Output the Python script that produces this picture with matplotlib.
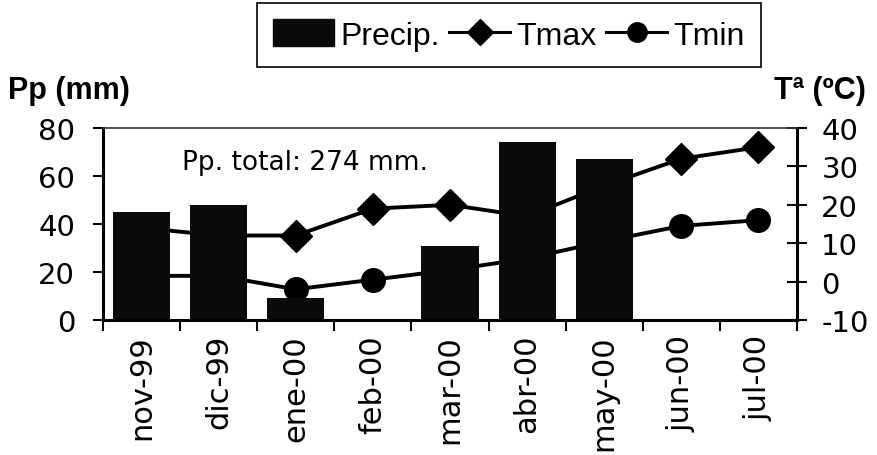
import matplotlib
matplotlib.use('Agg')
import matplotlib.pyplot as plt
import numpy as np
from matplotlib.patches import Patch
from matplotlib.lines import Line2D

plt.rcParams['axes.unicode_minus'] = False

months = ['nov-99', 'dic-99', 'ene-00', 'feb-00', 'mar-00', 'abr-00', 'may-00', 'jun-00', 'jul-00']
precip = [45, 48, 9, 0, 31, 74, 67, 0, 0]
tmax = [14, 12, 12, 19, 20, 17, 25, 32, 35]
tmin = [1.5, 1.5, -2, 0.5, 3, 6, 10.5, 14.5, 16]

x = np.arange(len(months))

fig = plt.figure(figsize=(8.77, 4.56), dpi=100)
ax = fig.add_axes([103/877, 1-321/456, 694/877, 192/456])
ax2 = ax.twinx()

# bars sit over the lines in the original
ax.set_zorder(2)
ax2.set_zorder(1)
ax.patch.set_visible(False)

ax.bar(x, precip, width=0.74, color='#0a0a0a')
ax2.plot(x, tmax, color='black', lw=2.8, marker='D', ms=16)
ax2.plot(x, tmin, color='black', lw=2.8, marker='o', ms=17)

ax.set_xlim(-0.5, len(months) - 0.5)
ax.set_ylim(0, 80)
ax2.set_ylim(-10, 40)
ax.set_yticks([0, 20, 40, 60, 80])
ax2.set_yticks([-10, 0, 10, 20, 30, 40])

ax.set_xticks(x)
ax.set_xticklabels(months, rotation=90, fontsize=22, family='DejaVu Sans')
ax.set_xticks(np.arange(-0.5, len(months)), minor=True)
ax.tick_params(axis='x', which='major', length=0, pad=10)
ax.tick_params(axis='x', which='minor', length=8, width=1.5, direction='out')
ax.tick_params(axis='y', length=7, width=1.5, direction='out', pad=13, labelsize=21)
ax2.tick_params(axis='y', length=15, width=1.5, direction='inout', pad=10, labelsize=21)

for s in ['left', 'bottom']:
    ax.spines[s].set_linewidth(2.2)
ax.spines['right'].set_visible(False)
ax.spines['top'].set_linewidth(1.2)
ax.spines['top'].set_color('#333333')
ax2.spines['right'].set_linewidth(2.2)
for s in ['left', 'bottom', 'top']:
    ax2.spines[s].set_visible(False)

ax.text(0.52, 66, 'Pp. total: 274 mm.', fontsize=19, va='center', ha='left')

fig.text(8/877, 1-91/456, 'Pp (mm)', fontsize=22, fontweight='bold',
         family='Liberation Sans', va='center', ha='left')
fig.text(774/877, 1-91/456, 'Tª (ºC)', fontsize=22, fontweight='bold',
         family='Liberation Sans', va='center', ha='left')

handles = [Patch(facecolor='#0a0a0a', edgecolor='#0a0a0a'),
           Line2D([], [], color='black', lw=2.2, marker='D', ms=13),
           Line2D([], [], color='black', lw=2.2, marker='o', ms=14)]
leg = fig.legend(handles, ['Precip.', 'Tmax', 'Tmin'], loc='center',
                 bbox_to_anchor=(509/877, 1-36/456), ncol=3, frameon=True,
                 fancybox=False, edgecolor='black', framealpha=1,
                 prop={'family': 'Liberation Sans', 'size': 23},
                 handlelength=1.9, handleheight=0.9, handletextpad=0.2,
                 columnspacing=0.3, borderpad=0.5, borderaxespad=0)
leg.get_frame().set_linewidth(1.2)

fig.savefig('out.png', dpi=100)
